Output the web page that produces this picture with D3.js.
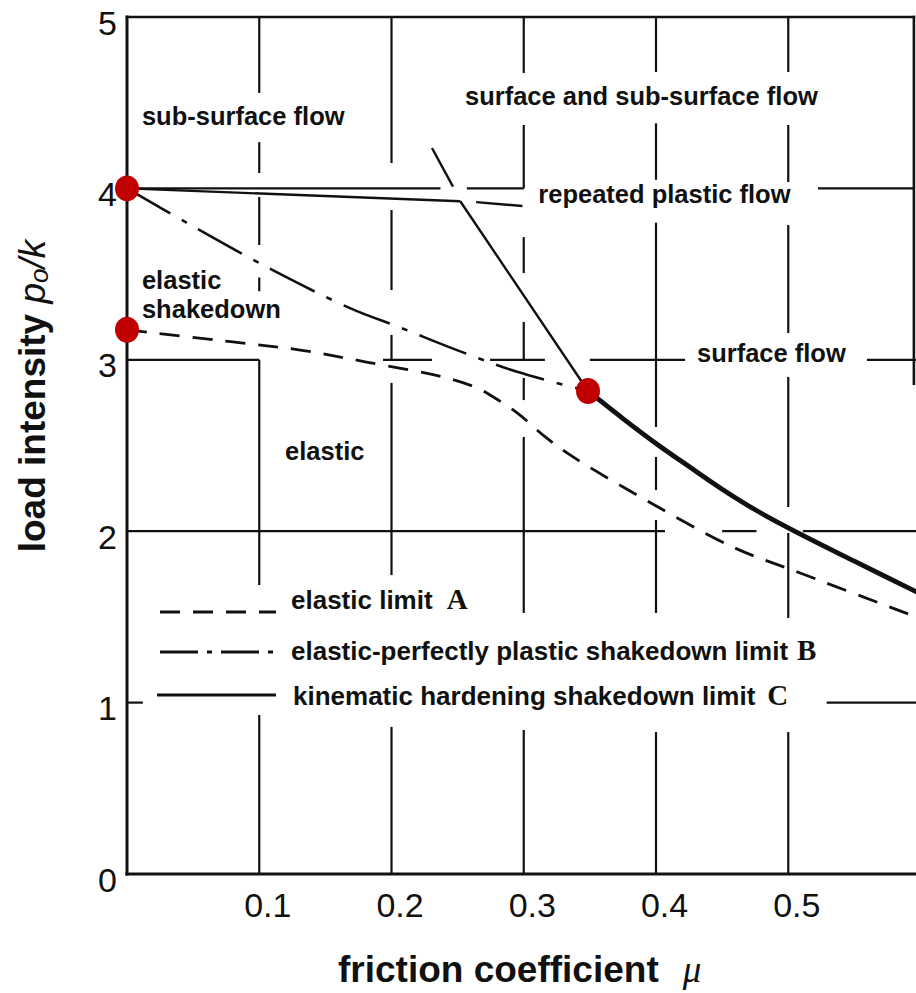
<!DOCTYPE html>
<html>
<head>
<meta charset="utf-8">
<script src="https://cdn.jsdelivr.net/npm/d3@7"></script>
<style>
  body { margin: 0; background: #fff; }
  text { font-family: "Liberation Sans", Arial, Helvetica, sans-serif; fill: #111; }
</style>
</head>
<body>
<svg id="chart"></svg>
<script>
// ticks
const xTicks = [0.1, 0.2, 0.3, 0.4, 0.5]
const yTicks = [0, 1, 2, 3, 4, 5]

// [mu, p0/k]
// elastic limit A
const limitA = [[0, 3.175], [0.080, 3.104], [0.131, 3.057], [0.181, 2.987], [0.242, 2.894],
  [0.265, 2.835], [0.2745, 2.795], [0.295, 2.69], [0.3146, 2.561], [0.335, 2.445],
  [0.383, 2.223], [0.458, 1.908], [0.509, 1.756], [0.6, 1.49]]
// elastic-perfectly plastic shakedown limit B (joins C at the third dot)
const limitB = [[0, 4.0], [0.045, 3.80], [0.106, 3.54], [0.169, 3.30], [0.206, 3.19],
  [0.25, 3.055], [0.295, 2.93], [0.3486, 2.818]]
// kinematic hardening shakedown limit C
const limitCFlat = [[0, 4.0], [0.252, 3.925]]
const limitCFlatExt = [[0.264, 3.92], [0.299, 3.897]]
const limitCTop = [[0.2306, 4.236], [0.2465, 4.01]]
const limitCSteep = [[0.252, 3.925], [0.3486, 2.818]]
const limitC = [[0.3486, 2.818], [0.375, 2.657], [0.40, 2.512], [0.425, 2.377], [0.45, 2.245],
  [0.475, 2.125], [0.50, 2.02], [0.55, 1.825], [0.60, 1.635]]

// red markers
const marked = [[0, 4.0], [0, 3.175], [0.3486, 2.818]]

// region labels, anchored at [mu, p0/k] of the first baseline
const regionText = [["sub-surface flow"], ["surface and sub-surface flow"], ["repeated plastic flow"],
  ["elastic", "shakedown"], ["elastic"], ["surface flow"]]
const regionAt = [[0.0113, 4.37], [0.2556, 4.487], [0.311, 3.915], [0.0113, 3.413], [0.1195, 2.415], [0.431, 2.987]]

// broken grid lines of the scan: [x, yFrom, yTo] and [y, xFrom, xTo]
const gridV = [
  [0.1, 5, 4.557], [0.1, 4.27, 4.09], [0.1, 3.95, 3.67], [0.1, 3.48, 3.40], [0.1, 3.0, 1.686], [0.1, 0.928, 0],
  [0.2, 5, 4.148], [0.2, 3.874, 3.407], [0.2, 3.145, 3.0], [0.2, 2.865, 1.744], [0.2, 0.858, 0],
  [0.3, 5, 4.673], [0.3, 4.37, 4.0], [0.3, 3.716, 3.506], [0.3, 3.221, 3.0], [0.3, 2.894, 2.765], [0.3, 2.55, 1.523], [0.3, 0.84, 0],
  [0.4, 5, 4.679], [0.4, 4.38, 4.05], [0.4, 3.80, 2.608], [0.4, 2.433, 2.24], [0.4, 2.065, 1.523], [0.4, 0.828, 0],
  [0.5, 5, 4.679], [0.5, 4.37, 4.037], [0.5, 3.786, 3.156], [0.5, 2.90, 2.141], [0.5, 1.99, 1.494], [0.5, 0.828, 0]
]
const gridH = [
  [4, 0, 0.237], [4, 0.257, 0.3], [4, 0.5225, 0.595],
  [3, 0, 0.1], [3, 0.1936, 0.2306], [3, 0.2745, 0.316], [3, 0.350, 0.422], [3, 0.5595, 0.6],
  [2, 0, 0.4068], [2, 0.45, 0.476], [2, 0.511, 0.6],
  [1, 0, 0.012], [1, 0.529, 0.6]
]

const legendNames = ["elastic limit", "elastic-perfectly plastic shakedown limit", "kinematic hardening shakedown limit"]
const legendKeys = ["A", "B", "C"]

const width = 916, height = 993
const ink = "#111"

const svg = d3.select("#chart")
  .attr("width", width)
  .attr("height", height)
  .style("background", "#fff")

const x = d3.scaleLinear().domain([0, 0.6]).range([127, 920.5])
const y = d3.scaleLinear().domain([0, 5]).range([874, 17])

// grid
svg.append("g").selectAll("line").data(gridV).join("line")
  .attr("x1", d => x(d[0])).attr("x2", d => x(d[0]))
  .attr("y1", d => y(d[1])).attr("y2", d => y(d[2]))
  .attr("stroke", ink).attr("stroke-width", 2.2)
svg.append("g").selectAll("line").data(gridH).join("line")
  .attr("y1", d => y(d[0])).attr("y2", d => y(d[0]))
  .attr("x1", d => x(d[1])).attr("x2", d => x(d[2]))
  .attr("stroke", ink).attr("stroke-width", 2.2)

// frame
const frame = svg.append("g").attr("stroke", ink).attr("stroke-linecap", "square")
frame.append("line").attr("x1", x(0)).attr("x2", x(0)).attr("y1", y(0)).attr("y2", y(5)).attr("stroke-width", 3)
frame.append("line").attr("x1", x(0)).attr("x2", x(0.6)).attr("y1", y(0)).attr("y2", y(0)).attr("stroke-width", 3.2)
frame.append("line").attr("x1", x(0)).attr("x2", x(0.595)).attr("y1", y(5)).attr("y2", y(5)).attr("stroke-width", 2.6)
frame.append("line").attr("x1", x(0.595)).attr("x2", x(0.595)).attr("y1", y(5)).attr("y2", y(2.86)).attr("stroke-width", 2.6)

// axes (labels only)
const yAxis = svg.append("g")
  .attr("transform", `translate(${x(0)},0)`)
  .call(d3.axisLeft(y).tickValues(yTicks).tickSize(0).tickPadding(10).tickFormat(d3.format("d")))
const xAxis = svg.append("g")
  .attr("transform", `translate(8,${y(0)})`)
  .call(d3.axisBottom(x).tickValues(xTicks).tickSize(0).tickPadding(19).tickFormat(d3.format(".1f")))
for (const ax of [xAxis, yAxis]) {
  ax.select(".domain").remove()
  ax.selectAll("text")
    .style("font-family", '"Liberation Sans", Arial, sans-serif')
    .style("font-size", "34px")
    .attr("fill", ink)
}
yAxis.selectAll("text").attr("dy", "0.5em")

// curves
const line = d3.line().x(d => x(d[0])).y(d => y(d[1])).curve(d3.curveCatmullRom.alpha(0.5))
const straight = d3.line().x(d => x(d[0])).y(d => y(d[1]))
const curves = svg.append("g").attr("fill", "none").attr("stroke", ink)

curves.append("path").attr("d", line(limitA))
  .attr("stroke-width", 2.8).attr("stroke-dasharray", "20,13")
curves.append("path").attr("d", line(limitB))
  .attr("stroke-width", 2.6).attr("stroke-dasharray", "50,13,6,13")
for (const part of [limitCFlat, limitCFlatExt, limitCTop, limitCSteep]) {
  curves.append("path").attr("d", straight(part)).attr("stroke-width", 2.4)
}
// B coincides with C past the junction, so the line is heavier there
curves.append("path").attr("d", line(limitC)).attr("stroke-width", 4.8)

// region labels
const regions = svg.append("g")
  .style("font-size", "25.5px").style("font-weight", "bold")
regionText.forEach((lines, i) => {
  const t = regions.append("text")
    .attr("x", x(regionAt[i][0])).attr("y", y(regionAt[i][1]))
  lines.forEach((s, j) => {
    t.append("tspan").attr("x", x(regionAt[i][0])).attr("dy", j === 0 ? 0 : 28.5).text(s)
  })
})

// legend
const legendLineY = [612, 652, 695]
const legendTextY = [609, 660, 705]
const legendDash = ["20,13", "38,9,5,9", null]
const legendGap = [14, 9, 12]
const legend = svg.append("g")
legendNames.forEach((name, i) => {
  legend.append("line")
    .attr("x1", i === 2 ? 157 : 160).attr("x2", 276)
    .attr("y1", legendLineY[i]).attr("y2", legendLineY[i])
    .attr("stroke", ink).attr("stroke-width", i === 2 ? 3 : 2.8)
    .attr("stroke-dasharray", legendDash[i])
  const t = legend.append("text")
    .attr("x", i === 2 ? 293 : 291).attr("y", legendTextY[i])
    .style("font-size", "26px").style("font-weight", "bold")
  t.append("tspan").text(name)
  t.append("tspan").attr("dx", legendGap[i])
    .style("font-family", '"Liberation Serif", "Times New Roman", serif')
    .style("font-size", "29px")
    .text(legendKeys[i])
})

// axis titles
const yTitle = svg.append("text")
  .attr("transform", `translate(45,396) rotate(-90)`)
  .attr("text-anchor", "middle")
  .style("font-size", "37px")
yTitle.append("tspan").style("font-weight", "bold").text("load intensity ")
yTitle.append("tspan").style("font-style", "italic").text("p")
yTitle.append("tspan").style("font-style", "italic").style("font-size", "26px").attr("dy", 3).text("o")
yTitle.append("tspan").style("font-style", "italic").attr("dy", -3).text("/k")

const xTitle = svg.append("text")
  .attr("x", 338).attr("y", 982)
  .style("font-size", "37px")
xTitle.append("tspan").style("font-weight", "bold").text("friction coefficient")
xTitle.append("tspan").attr("dx", 24)
  .style("font-family", '"Liberation Serif", "Times New Roman", serif')
  .style("font-style", "italic")
  .text("μ")

// marked points
svg.append("g").selectAll("ellipse").data(marked).join("ellipse")
  .attr("cx", d => x(d[0])).attr("cy", d => y(d[1]))
  .attr("rx", 12).attr("ry", 13)
  .attr("fill", "#c00000")
</script>
</body>
</html>
